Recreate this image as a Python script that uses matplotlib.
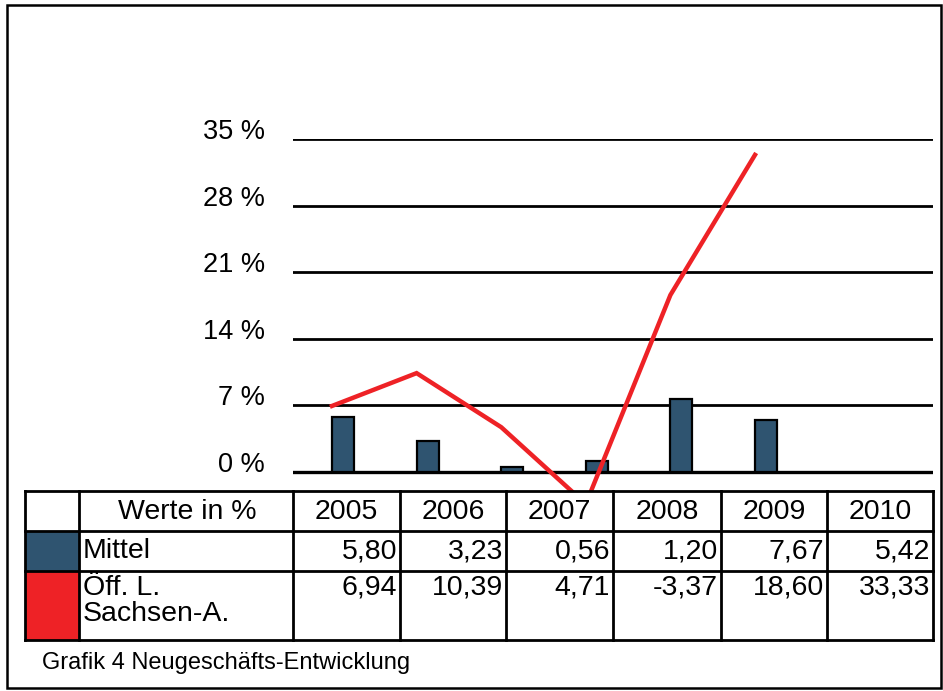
import matplotlib
matplotlib.use("Agg")
import matplotlib.pyplot as plt
import matplotlib.transforms as mtransforms
from matplotlib.patches import Rectangle

plt.rcParams['font.family'] = ['Liberation Sans', 'DejaVu Sans']

# data
years = ['2005', '2006', '2007', '2008', '2009', '2010']
mittel = [5.80, 3.23, 0.56, 1.20, 7.67, 5.42]
oeff = [6.94, 10.39, 4.71, -3.37, 18.60, 33.33]
y_ticks = [0, 7, 14, 21, 28, 35]
row_labels = ['Mittel', 'Öff. L.\nSachsen-A.']
header_label = 'Werte in %'
caption = 'Grafik 4 Neugeschäfts-Entwicklung'

BLUE = '#2F5470'
RED = '#EE2226'
W, H = 943, 691

fig = plt.figure(figsize=(W / 100, H / 100), dpi=100)

# outer frame
fig.patches.append(Rectangle((7 / W, 1 - 688 / H), 934 / W, 683 / H,
                             transform=fig.transFigure, fill=False,
                             edgecolor='black', linewidth=1.8))

# chart area
ax = fig.add_axes([293 / W, 1 - 491 / H, 640 / W, 352 / H])
ax.set_xlim(-0.591, 6.974)
ax.set_ylim(-2.0, 35)
ax.axis('off')

for t in y_ticks:
    ax.axhline(t, color='black', lw=2.4 if t == 0 else 2.0, zorder=1)
    off = mtransforms.offset_copy(ax.transData, fig=fig, x=0, y=7, units='dots')
    lbl_tr = mtransforms.blended_transform_factory(ax.transAxes, off)
    ax.text(-28 / 640, t, f'{t} %', transform=lbl_tr, ha='right', va='center',
            fontsize=19.5)

xs = list(range(len(years)))
bar_w = 0.26
ax.bar(xs, mittel, width=bar_w, color=BLUE, edgecolor='black', linewidth=1.6, zorder=2)
ax.plot([x - bar_w / 2 for x in xs], oeff, color=RED, lw=3.2, zorder=3,
        clip_on=False, solid_joinstyle='miter')

# table
tab = fig.add_axes([25 / W, 1 - 640 / H, 908 / W, 149 / H], zorder=5)
tab.set_xlim(25, 933)
tab.set_ylim(640, 491)
tab.axis('off')
col_edges = [25, 79, 293, 400, 506, 613, 721, 827, 933]
row_edges = [491, 531, 571, 640]

tab.add_patch(Rectangle((25, 491), 908, 149, facecolor='white', edgecolor='none'))
tab.add_patch(Rectangle((25, 531), 54, 40, facecolor=BLUE, edgecolor='none'))
tab.add_patch(Rectangle((25, 571), 54, 69, facecolor=RED, edgecolor='none'))
for xe in col_edges:
    tab.plot([xe, xe], [491, 640], color='black', lw=2.0, clip_on=False,
             solid_capstyle='projecting')
for ye in row_edges:
    tab.plot([25, 933], [ye, ye], color='black', lw=2.0, clip_on=False,
             solid_capstyle='projecting')

fs = 20.5
tab.text(187, 512, header_label, ha='center', va='center', fontsize=fs)
for i, yr in enumerate(years):
    c0, c1 = col_edges[i + 2], col_edges[i + 3]
    tab.text((c0 + c1) / 2, 512, yr, ha='center', va='center', fontsize=fs)
    tab.text(c1 - 3, 551, f'{mittel[i]:.2f}'.replace('.', ','),
             ha='right', va='center', fontsize=fs)
    tab.text(c1 - 3, 575, f'{oeff[i]:.2f}'.replace('.', ','),
             ha='right', va='top', fontsize=fs)
tab.text(83, 551, row_labels[0], ha='left', va='center', fontsize=fs)
tab.text(83, 575, row_labels[1], ha='left', va='top', fontsize=fs, linespacing=1.0)

fig.text(42 / W, 1 - 663 / H, caption, ha='left', va='center', fontsize=17)

fig.savefig('out.png', dpi=100)
